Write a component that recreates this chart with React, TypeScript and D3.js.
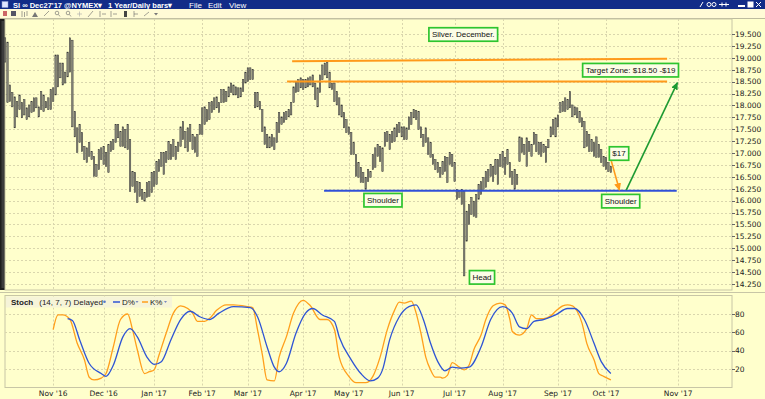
import React, { useLayoutEffect, useMemo, useRef, useState } from "react";
import * as d3 from "d3";

// ---------------- DATA ----------------
// Daily highs / lows of SI Dec'17 (one value per trading day from 2016-10-04)
const highs = [
  19.42, 19.33, 18.43, 18.27, 18.18, 18.08, 18.22, 18.06, 18.12, 17.95,
  18.01, 18.08, 18.16, 18.16, 17.97, 18.29, 18.22, 18.08, 18.16, 18.33,
  18.37, 19.06, 19.06, 18.89, 18.89, 18.70, 19.12, 19.42, 19.37, 17.87,
  17.53, 17.60, 17.43, 17.14, 17.11, 17.22, 17.03, 16.93, 16.76, 17.07,
  17.11, 17.14, 17.01, 17.18, 17.24, 17.28, 17.60, 17.60, 17.45, 17.55,
  17.49, 17.60, 17.28, 16.61, 16.59, 16.40, 16.38, 16.24, 16.17, 16.38,
  16.40, 16.59, 16.61, 16.82, 16.86, 17.01, 17.01, 17.03, 17.24, 17.18,
  17.28, 17.14, 17.22, 17.55, 17.66, 17.45, 17.53, 17.60, 17.39, 17.34,
  17.39, 17.60, 17.95, 17.97, 17.91, 18.06, 18.08, 18.16, 18.18, 18.06,
  18.33, 18.33, 18.29, 18.39, 18.47, 18.43, 18.39, 18.37, 18.37, 18.54,
  18.70, 18.79, 18.79, 18.75, 18.27, 18.27, 18.08, 17.91, 17.55, 17.39,
  17.34, 17.39, 17.32, 17.64, 17.85, 17.76, 17.85, 17.87, 17.91, 18.06,
  18.39, 18.50, 18.54, 18.58, 18.54, 18.54, 18.58, 18.60, 18.64, 18.47,
  18.37, 18.64, 18.85, 18.89, 18.91, 18.70, 18.47, 18.47, 18.29, 18.16,
  18.01, 17.85, 17.70, 17.55, 17.43, 17.22, 16.97, 16.80, 16.70, 16.59,
  16.49, 16.65, 16.61, 16.97, 17.11, 17.18, 17.14, 17.11, 17.43, 17.45,
  17.39, 17.45, 17.53, 17.60, 17.64, 17.55, 17.55, 17.53, 17.76, 17.85,
  17.91, 17.89, 17.87, 17.55, 17.39, 17.53, 17.32, 17.22, 16.97, 16.86,
  16.80, 16.70, 16.82, 16.93, 16.91, 17.01, 16.97, 16.80, 16.24, 16.19,
  16.24, 16.19, 15.78, 15.92, 16.07, 15.99, 16.13, 16.34, 16.40, 16.49,
  16.61, 16.65, 16.76, 16.72, 16.86, 16.86, 16.97, 17.03, 16.91, 17.07,
  16.80, 16.61, 16.65, 16.55, 17.34, 17.32, 17.18, 17.32, 17.24, 17.18,
  17.43, 17.39, 17.22, 17.22, 17.18, 17.14, 17.28, 17.55, 17.70, 17.74,
  17.80, 18.06, 18.08, 18.16, 18.12, 18.29, 18.01, 17.97, 17.95, 17.87,
  17.74, 17.66, 17.45, 17.39, 17.28, 17.22, 17.34, 17.18, 17.07, 16.93,
  16.91, 16.80, 16.72,
];
const lows = [
  18.91, 18.06, 18.08, 17.97, 17.53, 17.76, 17.91, 17.74, 17.80, 17.70,
  17.76, 17.85, 17.87, 17.95, 17.76, 17.91, 17.87, 17.95, 17.91, 17.91,
  18.08, 18.22, 18.39, 18.58, 18.43, 18.47, 18.60, 18.70, 17.55, 17.34,
  17.01, 17.22, 17.03, 16.86, 16.80, 16.93, 16.86, 16.51, 16.51, 16.65,
  16.86, 16.76, 16.72, 16.59, 17.03, 17.07, 17.22, 17.32, 17.14, 17.14,
  17.11, 17.07, 16.19, 16.30, 16.17, 15.96, 16.09, 16.03, 15.99, 16.07,
  16.09, 16.17, 16.30, 16.34, 16.61, 16.72, 16.55, 16.80, 16.86, 16.86,
  16.93, 16.86, 17.03, 17.14, 17.28, 17.11, 17.03, 17.24, 17.07, 17.01,
  16.93, 17.39, 17.39, 17.60, 17.66, 17.70, 17.85, 17.91, 17.95, 17.85,
  18.06, 18.06, 18.08, 18.18, 18.27, 18.22, 18.22, 18.16, 18.18, 18.29,
  18.47, 18.50, 18.54, 18.54, 17.95, 17.97, 17.91, 17.45, 17.18, 17.11,
  17.11, 17.14, 17.07, 17.22, 17.43, 17.60, 17.64, 17.70, 17.76, 17.80,
  18.06, 18.27, 18.29, 18.37, 18.33, 18.37, 18.39, 18.43, 18.39, 18.12,
  17.97, 18.27, 18.54, 18.64, 18.58, 18.37, 18.33, 18.08, 18.01, 17.80,
  17.76, 17.53, 17.43, 17.39, 16.97, 16.97, 16.51, 16.49, 16.38, 16.38,
  16.24, 16.40, 16.49, 16.65, 16.70, 16.93, 16.82, 16.61, 17.14, 17.24,
  17.07, 17.22, 17.24, 17.34, 17.43, 17.34, 17.28, 17.28, 17.49, 17.60,
  17.74, 17.70, 17.49, 17.32, 17.14, 17.22, 16.97, 16.91, 16.76, 16.65,
  16.59, 16.49, 16.55, 16.61, 16.38, 16.76, 16.72, 16.40, 16.03, 16.07,
  15.92, 14.42, 15.15, 15.50, 15.71, 15.67, 15.65, 16.03, 16.13, 16.24,
  16.28, 16.40, 16.51, 16.40, 16.55, 16.34, 16.72, 16.70, 16.55, 16.76,
  16.49, 16.34, 16.24, 16.34, 16.82, 17.01, 16.97, 16.72, 17.03, 16.93,
  17.18, 17.03, 16.97, 16.93, 17.01, 16.80, 17.11, 17.34, 17.39, 17.34,
  17.55, 17.85, 17.87, 17.87, 17.91, 17.95, 17.76, 17.80, 17.74, 17.64,
  17.55, 17.11, 17.14, 17.03, 17.03, 16.93, 16.91, 16.91, 16.80, 16.72,
  16.65, 16.61, 16.59,
];

// Stochastic (14,7,7) readings: trading-day index -> value
const kDays = [20, 22, 24, 27, 30, 33, 35, 37, 40, 42, 45, 48, 51, 53, 55, 58, 60, 62, 64, 67, 70, 73, 76, 78, 80, 83, 85, 88, 92, 95, 101, 103, 105, 107, 109, 112, 114, 117, 120, 124, 127, 131, 134, 137, 139, 143, 146, 150, 153, 156, 159, 162, 164, 166, 169, 171, 173, 175, 177, 179, 181, 182, 184, 186, 189, 191, 193, 195, 198, 200, 203, 206, 208, 210, 211, 214, 217, 219, 221, 224, 227, 229, 232, 234, 236, 238, 240, 242, 245, 247, 249, 252];
const kValues = [63, 79, 79, 74, 48, 30, 11, 8, 10, 15, 44, 74, 80, 63, 41, 15, 17, 19, 35, 59, 81, 89, 86, 81, 72, 72, 75, 84, 90, 90, 88, 87, 63, 36, 8, 7, 33, 55, 81, 95, 89, 74, 74, 63, 33, 12, 5, 5, 12, 33, 63, 84, 93, 92, 94, 81, 59, 33, 19, 11, 11, 10, 13, 27, 22, 19, 24, 41, 57, 74, 89, 92, 90, 74, 61, 57, 64, 79, 75, 75, 78, 83, 89, 90, 89, 83, 70, 48, 30, 15, 12, 8];
const dDays = [26, 28, 31, 35, 40, 42, 45, 49, 52, 55, 59, 62, 65, 69, 73, 77, 81, 85, 89, 95, 102, 105, 109, 112, 114, 117, 121, 125, 128, 132, 137, 139, 144, 148, 152, 155, 157, 160, 164, 168, 171, 174, 177, 180, 183, 186, 189, 193, 198, 202, 207, 211, 214, 217, 220, 224, 229, 234, 237, 241, 245, 248, 252];
const dValues = [75, 73, 52, 26, 15, 12, 24, 55, 64, 55, 33, 25, 28, 52, 74, 83, 77, 74, 81, 88, 87, 77, 44, 22, 17, 26, 59, 81, 86, 79, 72, 55, 30, 15, 7, 10, 19, 52, 77, 88, 90, 74, 48, 28, 18, 22, 21, 22, 44, 74, 88, 81, 66, 64, 72, 74, 79, 86, 86, 74, 48, 28, 15];

const priceTicks = [14.25, 14.5, 14.75, 15, 15.25, 15.5, 15.75, 16, 16.25, 16.5, 16.75, 17, 17.25, 17.5, 17.75, 18, 18.25, 18.5, 18.75, 19, 19.25, 19.5];
const stochTicks = [20, 40, 60, 80];
const monthLabels = ["Nov '16", "Dec '16", "Jan '17", "Feb '17", "Mar '17", "Apr '17", "May '17", "Jun '17", "Jul '17", "Aug '17", "Sep '17", "Oct '17", "Nov '17"];
const holidays = ["2016-11-24", "2016-12-26", "2017-01-02", "2017-01-16", "2017-02-20", "2017-04-14", "2017-05-29", "2017-07-04", "2017-09-04"];

// Drawn studies (day index, price)
const upperZoneDays = [119.4, 275.4];
const upperZonePrices = [18.93, 18.98];
const lowerZoneDays = [117.3, 275.4];
const lowerZonePrices = [18.5, 18.5];
const necklineDays = [132.7, 279.4];
const necklinePrices = [16.21, 16.21];
const orangeArrowDays = [252.2, 255.6];
const orangeArrowPrices = [16.83, 16.22];
const greenArrowDays = [258.4, 279.7];
const greenArrowPrices = [16.22, 18.48];

const noteTexts = ["Silver. December.", "Target Zone: $18.50 -$19", "Shoulder", "Head", "$17", "Shoulder"];
const noteDays = [190.6, 260.2, 157.2, 198.4, 255.4, 256.1];
const notePrices = [19.49, 18.74, 16.01, 14.39, 16.99, 15.99];

// ---------------- HELPERS ----------------
function buildTradingDates(count: number): Date[] {
  const out: Date[] = [];
  const hol = new Set(holidays);
  const d = new Date(Date.UTC(2016, 9, 4));
  while (out.length < count) {
    const wd = d.getUTCDay();
    const key = d.toISOString().slice(0, 10);
    if (wd !== 0 && wd !== 6 && !hol.has(key)) out.push(new Date(d.getTime()));
    d.setUTCDate(d.getUTCDate() + 1);
  }
  return out;
}

const FONT_AX = "'DejaVu Sans', Verdana, sans-serif";
const FONT_UI = "'Liberation Sans', Arial, sans-serif";

function NoteBox({ cx, cy, text }: { cx: number; cy: number; text: string }) {
  const ref = useRef<SVGTextElement>(null);
  const [w, setW] = useState(text.length * 3.8);
  useLayoutEffect(() => {
    if (ref.current) setW(ref.current.getComputedTextLength());
  }, [text]);
  const bw = w + 6;
  const bh = 13.5;
  return (
    <g>
      <rect x={cx - bw / 2} y={cy - bh / 2} width={bw} height={bh} fill="#fcfde6" stroke="#2ec52e" strokeWidth={1.7} />
      <text ref={ref} x={cx} y={cy + 2.9} textAnchor="middle" fontSize={8} fontFamily={FONT_UI} fill="#111">
        {text}
      </text>
    </g>
  );
}

export default function App() {
  const dates = useMemo(() => buildTradingDates(highs.length), []);

  const X0 = 5, X1 = 732;
  const x = d3.scaleLinear().domain([-0.04, 302.4]).range([X0, X1]);
  const y = d3.scaleLinear().domain([14.25, 19.5]).range([284, 34]);
  const ys = d3.scaleLinear().domain([0, 100]).range([387.3, 295.7]);

  const mainTop = 19, mainBot = 290;
  const stTop = 295.5, stBot = 387.5;

  // month ticks
  const monthIdx: number[] = [];
  for (let i = 1; i < dates.length; i++) {
    if (dates[i].getUTCMonth() !== dates[i - 1].getUTCMonth()) monthIdx.push(i);
  }
  const last = dates[dates.length - 1];
  const futureNov = new Date(Date.UTC(2017, 10, 1));
  monthIdx.push(dates.length - 1 + Math.round((futureNov.getTime() - last.getTime()) / 86400000));

  const kLine = d3
    .line<number>()
    .x((_, j) => x(kDays[j]))
    .y((v) => ys(v))
    .curve(d3.curveMonotoneX)(kValues) as string;
  const dLine = d3
    .line<number>()
    .x((_, j) => x(dDays[j]))
    .y((v) => ys(v))
    .curve(d3.curveMonotoneX)(dValues) as string;

  const bg = "#ffffcc";
  const gridC = "#d9d6ad";

  const seg = (days: number[], prices: number[]) => ({ x1: x(days[0]), y1: y(prices[0]), x2: x(days[1]), y2: y(prices[1]) });

  return (
    <div style={{ position: "absolute", left: 0, top: 0, width: 765, height: 399 }}>
      <svg width={765} height={399} style={{ display: "block" }}>
        <defs>
          <marker id="arrO" markerUnits="userSpaceOnUse" markerWidth={8} markerHeight={8} refX={7} refY={4} orient="auto">
            <path d="M0,0.5 L7.5,4 L0,7.5 z" fill="#ff9a1a" />
          </marker>
          <marker id="arrG" markerUnits="userSpaceOnUse" markerWidth={8} markerHeight={8} refX={7} refY={4} orient="auto">
            <path d="M0,0.5 L7.5,4 L0,7.5 z" fill="#1d9a32" />
          </marker>
        </defs>
        <rect x={0} y={0} width={765} height={399} fill={bg} />

        {/* title bar */}
        <rect x={0} y={0} width={765} height={9} fill="#122c88" />
        <rect x={2} y={1.5} width={6} height={6} fill="#dfe6ff" stroke="#8899cc" strokeWidth={0.5} />
        <text x={13} y={7.6} fontSize={8} fontWeight="bold" fontFamily={FONT_UI} fill="#fff" textLength={89} lengthAdjust="spacingAndGlyphs">
          SI ∞ Dec27'17 @NYMEX▾
        </text>
        <text x={108} y={7.6} fontSize={8} fontWeight="bold" fontFamily={FONT_UI} fill="#fff" textLength={64} lengthAdjust="spacingAndGlyphs">
          1 Year/Daily bars▾
        </text>
        <text x={189} y={7.6} fontSize={8} fontFamily={FONT_UI} fill="#fff">File</text>
        <text x={208} y={7.6} fontSize={8} fontFamily={FONT_UI} fill="#fff">Edit</text>
        <text x={229} y={7.6} fontSize={8} fontFamily={FONT_UI} fill="#fff">View</text>
        <g stroke="#fff" strokeWidth={1} fill="none">
          <line x1={700} y1={7} x2={703} y2={2} />
          <circle cx={709} cy={4.5} r={2} />
          <circle cx={714} cy={4.5} r={2} />
          <line x1={719} y1={4.5} x2={729} y2={4.5} />
          <line x1={722} y1={2.5} x2={722} y2={6.5} />
          <line x1={726} y1={2.5} x2={726} y2={6.5} />
          <line x1={738} y1={6} x2={745} y2={6} strokeWidth={2} />
          <rect x={748} y={2} width={5} height={5} fill="#fff" />
          <line x1={756} y1={2} x2={761} y2={7} />
          <line x1={761} y1={2} x2={756} y2={7} />
        </g>

        {/* toolbar */}
        <rect x={0} y={9} width={765} height={10} fill="#fffbd6" />
        <g fill="#777" stroke="#666" strokeWidth={0.6}>
          <rect x={3} y={11} width={4} height={5} fill="#c66" stroke="none" />
          <rect x={11} y={11} width={5} height={5} fill="#556" stroke="none" />
          <line x1={22} y1={11} x2={22} y2={17} />
          <line x1={24.5} y1={12} x2={24.5} y2={17} />
          <line x1={27} y1={11} x2={27} y2={16} />
          <path d="M32,17 L35,12 L38,17 z" stroke="none" />
          <path d="M44,16 L49,11" fill="none" />
          <circle cx={57} cy={13} r={1.8} fill="none" />
          <line x1={58.5} y1={14.5} x2={60} y2={16.5} />
          <circle cx={68} cy={13} r={1.8} fill="none" />
          <line x1={69.5} y1={14.5} x2={71} y2={16.5} />
          <line x1={77} y1={14} x2={82} y2={14} stroke="#aaa" />
          <line x1={79.5} y1={11.5} x2={79.5} y2={16.5} stroke="#aaa" />
          <path d="M88,17 L93,11" fill="none" />
          <line x1={100} y1={11} x2={100} y2={17} />
          <line x1={102} y1={14} x2={106} y2={14} />
          <line x1={111} y1={11} x2={111} y2={17} />
          <line x1={113} y1={14} x2={117} y2={14} />
          <rect x={124} y={11} width={3} height={6} fill="#444" stroke="none" />
          <line x1={134} y1={11} x2={134} y2={17} />
          <line x1={134} y1={14} x2={138} y2={14} />
          <path d="M144,16 L149,12" fill="none" />
          <path d="M154,13 L158,13 L156,15.5 z" stroke="none" />
        </g>
        <line x1={0} y1={18.5} x2={765} y2={18.5} stroke="#bdbb9e" strokeWidth={1} />

        {/* left dark strip */}
        <rect x={0} y={mainTop} width={5.5} height={mainBot - mainTop} fill="#1e1e1e" />
        <rect x={1.5} y={mainTop + 2} width={2.5} height={mainBot - mainTop - 4} fill="#3c3c3c" />

        {/* main panel frame */}
        <rect x={X0} y={mainTop} width={X1 - X0} height={mainBot - mainTop} fill={bg} stroke="#c8c6a6" strokeWidth={1} />
        {/* main grid */}
        <g stroke={gridC} strokeWidth={1} strokeDasharray="2,2">
          {priceTicks.map((p) => (
            <line key={"hg" + p} x1={X0} x2={X1} y1={Math.round(y(p)) + 0.5} y2={Math.round(y(p)) + 0.5} />
          ))}
          {monthIdx.map((i) => (
            <line key={"vg" + i} x1={Math.round(x(i)) + 0.5} x2={Math.round(x(i)) + 0.5} y1={mainTop} y2={mainBot} />
          ))}
        </g>
        {/* price axis */}
        <g>
          {priceTicks.map((p) => (
            <g key={"pt" + p}>
              <line x1={X1} x2={X1 + 3} y1={Math.round(y(p)) + 0.5} y2={Math.round(y(p)) + 0.5} stroke="#666" />
              <text x={735} y={y(p) + 2.8} fontSize={7.5} fontFamily={FONT_AX} fill="#222">
                {d3.format(".3f")(p)}
              </text>
            </g>
          ))}
        </g>

        {/* price bars */}
        <g>
          {highs.map((h, i) => (
            <rect
              key={"b" + i}
              x={x(i) - 0.7}
              y={y(h)}
              width={1.4}
              height={Math.max(1, y(lows[i]) - y(h))}
              fill="#8c8c80"
              stroke="#333"
              strokeWidth={0.5}
            />
          ))}
        </g>

        {/* studies */}
        {(() => {
          const u = seg(upperZoneDays, upperZonePrices);
          const l = seg(lowerZoneDays, lowerZonePrices);
          const n = seg(necklineDays, necklinePrices);
          const o = seg(orangeArrowDays, orangeArrowPrices);
          const g = seg(greenArrowDays, greenArrowPrices);
          return (
            <g>
              <line {...u} stroke="#ff9a1a" strokeWidth={2} />
              <line {...l} stroke="#ff9a1a" strokeWidth={2} />
              <line {...n} stroke="#3050d8" strokeWidth={2} />
              <line {...o} stroke="#ff9a1a" strokeWidth={1.6} markerEnd="url(#arrO)" />
              <line {...g} stroke="#1d9a32" strokeWidth={1.6} markerEnd="url(#arrG)" />
            </g>
          );
        })()}

        {noteTexts.map((t, j) => (
          <NoteBox key={"n" + j} cx={x(noteDays[j])} cy={y(notePrices[j])} text={t} />
        ))}

        {/* splitter */}
        <line x1={0} y1={292.5} x2={765} y2={292.5} stroke="#c8c6a6" />

        {/* stoch panel */}
        <rect x={X0} y={stTop} width={X1 - X0} height={stBot - stTop} fill={bg} stroke="#c8c6a6" strokeWidth={1} />
        <g stroke={gridC} strokeWidth={1} strokeDasharray="2,2">
          {stochTicks.map((v) => (
            <line key={"sg" + v} x1={X0} x2={X1} y1={Math.round(ys(v)) + 0.5} y2={Math.round(ys(v)) + 0.5} />
          ))}
          {monthIdx.map((i) => (
            <line key={"svg" + i} x1={Math.round(x(i)) + 0.5} x2={Math.round(x(i)) + 0.5} y1={stTop} y2={stBot} />
          ))}
        </g>
        {stochTicks.map((v) => (
          <g key={"st" + v}>
            <line x1={X1} x2={X1 + 3} y1={Math.round(ys(v)) + 0.5} y2={Math.round(ys(v)) + 0.5} stroke="#666" />
            <text x={735} y={ys(v) + 2.8} fontSize={7.5} fontFamily={FONT_AX} fill="#222">
              {v}
            </text>
          </g>
        ))}
        <path d={kLine} fill="none" stroke="#ff9f1c" strokeWidth={1.3} />
        <path d={dLine} fill="none" stroke="#2f55d4" strokeWidth={1.3} />

        {/* stoch legend */}
        <rect x={X0 + 1} y={stTop + 1} width={166} height={11} fill="#f6f4d8" />
        <text x={11} y={304.5} fontSize={8} fontFamily={FONT_UI} fill="#222">
          <tspan fontWeight="bold">Stoch</tspan>
          <tspan dx={6}>(14, 7, 7) Delayed</tspan>
        </text>
        <circle cx={104.5} cy={301.8} r={1.3} fill="#5577cc" />
        <line x1={113} y1={302} x2={120} y2={302} stroke="#2f55d4" strokeWidth={1.5} />
        <text x={122} y={304.5} fontSize={8} fontFamily={FONT_UI} fill="#222">D%</text>
        <path d="M135.5,301 L138.5,301 L137,303 z" fill="#7a8ac0" />
        <line x1={142} y1={302} x2={148} y2={302} stroke="#ff9f1c" strokeWidth={1.5} />
        <text x={150} y={304.5} fontSize={8} fontFamily={FONT_UI} fill="#222">K%</text>
        <path d="M164,301 L167,301 L165.5,303 z" fill="#7a8ac0" />

        {/* x axis labels */}
        {monthIdx.map((i, j) => (
          <text key={"ml" + i} x={x(i)} y={396} textAnchor="middle" fontSize={7.5} fontFamily={FONT_AX} fill="#222">
            {monthLabels[j]}
          </text>
        ))}
      </svg>
    </div>
  );
}
